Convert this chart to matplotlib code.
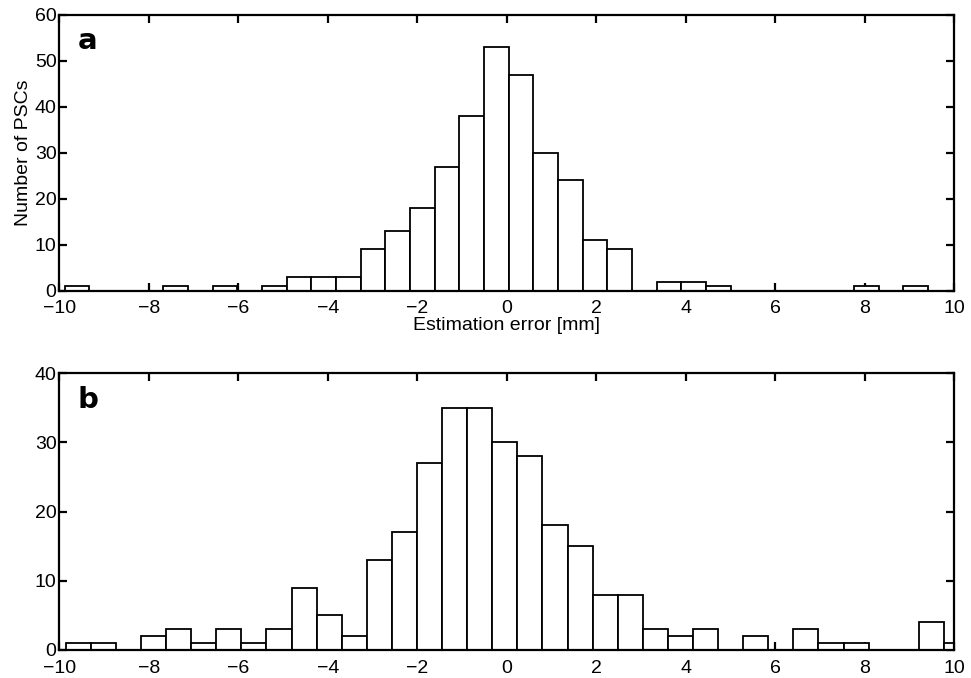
import matplotlib
matplotlib.use('Agg')
import matplotlib.pyplot as plt
import numpy as np

# Histogram counts (left to right)
counts_a = [1, 0, 0, 0, 1, 0, 1, 0, 1, 3, 3, 3, 9, 13, 18, 27, 38, 53, 47,
            30, 24, 11, 9, 0, 2, 2, 1, 0, 0, 0, 0, 0, 1, 0, 1]
counts_b = [1, 1, 0, 2, 3, 1, 3, 1, 3, 9, 5, 2, 13, 17, 27, 35, 35, 30, 28,
            18, 15, 8, 8, 3, 2, 3, 0, 2, 0, 3, 1, 1, 0, 0, 4, 1]

# bin layout of each panel (first left edge, bin width)
a_first_edge, a_bin_width = -9.881, 0.5513
b_first_edge, b_bin_width = -9.857, 0.5607

x_ticks = np.arange(-10, 11, 2)
y_ticks_a = np.arange(0, 61, 10)
y_ticks_b = np.arange(0, 41, 10)

plt.rcParams['font.family'] = ['Liberation Sans', 'DejaVu Sans']
plt.rcParams['font.size'] = 14

fig = plt.figure(figsize=(9.71, 6.78), dpi=100)
ax_a = fig.add_axes([0.0611, 0.5712, 0.9217, 0.4071])
ax_b = fig.add_axes([0.0611, 0.0413, 0.9217, 0.4081])


def draw_hist(ax, counts, first_edge, width, yticks, letter):
    left = first_edge + width * np.arange(len(counts))
    ax.bar(left, counts, width=width, align='edge', facecolor='white',
           edgecolor='black', linewidth=1.3, zorder=2)
    ax.set_xlim(-10, 10)
    ax.set_ylim(yticks[0], yticks[-1])
    ax.set_xticks(x_ticks)
    ax.set_yticks(yticks)
    for s in ax.spines.values():
        s.set_linewidth(1.6)
        s.set_zorder(3)
    ax.tick_params(direction='in', length=6, width=1.6, top=True, right=True,
                   labelsize=14)
    ax.tick_params(axis='x', pad=7)
    ax.tick_params(axis='y', pad=2)
    ax.text(0.0205, 0.955, letter, transform=ax.transAxes, fontsize=21,
            fontweight='bold', family='DejaVu Sans', ha='left', va='top')


draw_hist(ax_a, counts_a, a_first_edge, a_bin_width, y_ticks_a, 'a')
draw_hist(ax_b, counts_b, b_first_edge, b_bin_width, y_ticks_b, 'b')

ax_a.set_xlabel('Estimation error [mm]', fontsize=14, labelpad=0)
ax_a.set_ylabel('Number of PSCs', fontsize=14, labelpad=2)

fig.savefig('out.png', dpi=100)
